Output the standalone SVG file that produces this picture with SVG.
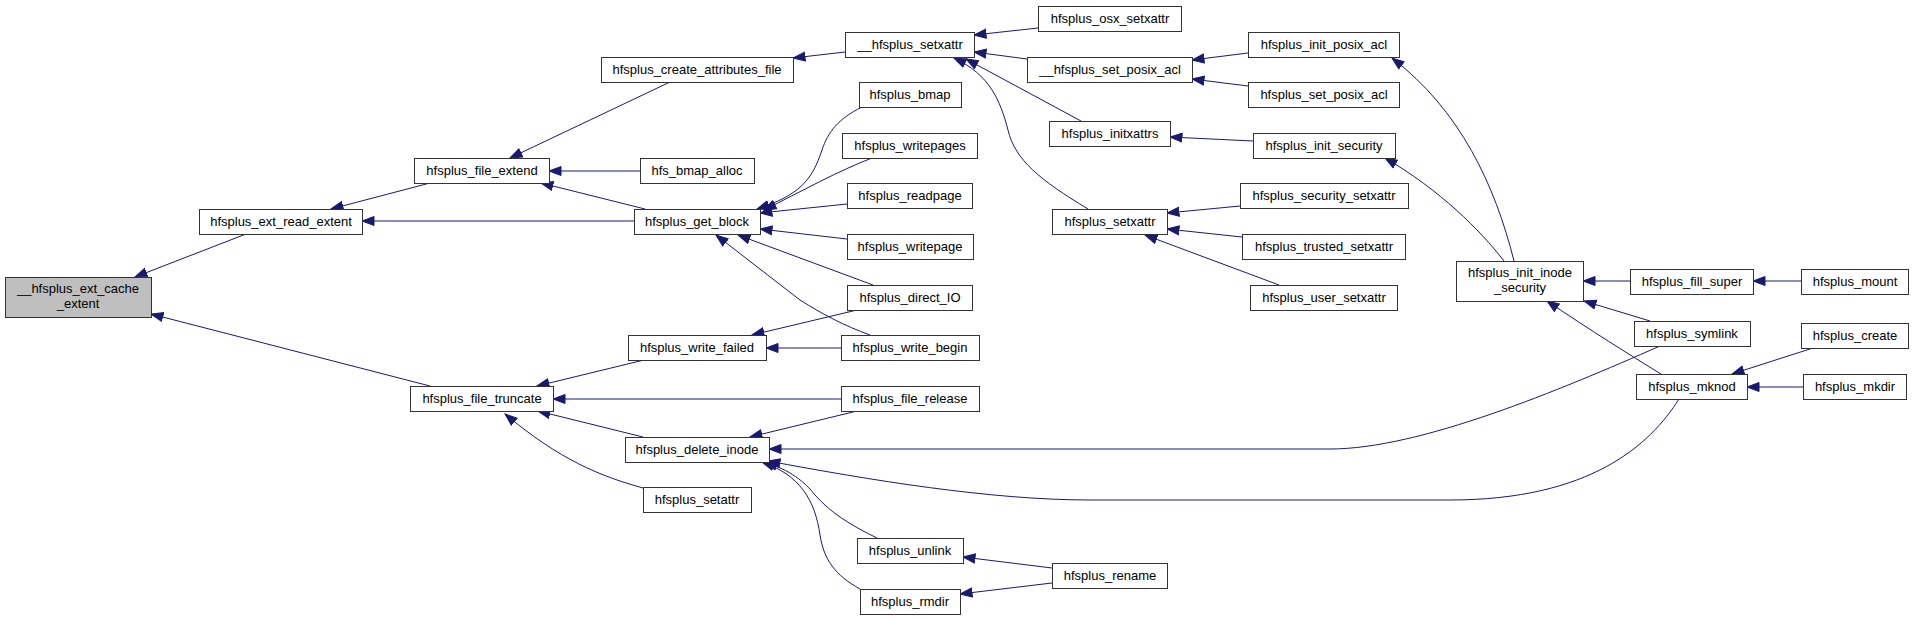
<svg xmlns="http://www.w3.org/2000/svg" width="1913" height="620" viewBox="0 0 1913 620">
<defs>
<style>
.n rect{fill:#ffffff;stroke:#333333;stroke-width:1}
.n.root rect{fill:#bfbfbf}
.n text{font-family:"Liberation Sans",Arial,sans-serif;font-size:13px;text-anchor:middle;fill:#000000}
.e path{fill:none;stroke:#191970;stroke-width:1;marker-end:url(#ah)}
</style>
<marker id="ah" markerUnits="userSpaceOnUse" markerWidth="14" markerHeight="11" viewBox="0 0 14 11" refX="12.5" refY="5.5" orient="auto">
<path d="M0.5,1 L12.5,5.5 L0.5,10 z" fill="#191970" stroke="#191970" stroke-width="1"/>
</marker>
</defs>
<rect x="0" y="0" width="1913" height="620" fill="#ffffff"/>
<g id="connectors" class="e">
<path d="M246,234 L135,277"/>
<path d="M430,386 L151,314"/>
<path d="M430,183 L331,209"/>
<path d="M634,221 L362,221"/>
<path d="M670,82 L510,158"/>
<path d="M640,171 L549,171"/>
<path d="M645,209 L541,183"/>
<path d="M845,52 L793,58"/>
<path d="M862,107 C838,119 828,132 822,150 C812,180 800,195 757,209"/>
<path d="M872,158 C840,170 800,192 764,210"/>
<path d="M847,204 L760,213"/>
<path d="M847,239 L760,229"/>
<path d="M873,285 L738,235"/>
<path d="M870,335 C845,326 822,314 800,300 L716,235"/>
<path d="M857,310 L752,335"/>
<path d="M841,348 L766,348"/>
<path d="M644,360 L537,386"/>
<path d="M841,399 L553,399"/>
<path d="M643,437 L538,411"/>
<path d="M643,488 C600,476 560,460 505,414"/>
<path d="M857,411 L750,437"/>
<path d="M1660,346 C1560,390 1420,449 1330,449 L769,449"/>
<path d="M1679,399 C1650,445 1590,500 1450,500 L1090,500 C990,500 870,480 768,461"/>
<path d="M877,538 C850,525 830,512 815,495 C805,482 790,470 765,462"/>
<path d="M860,589 C835,575 824,560 820,535 C815,500 800,475 762,462"/>
<path d="M1052,568 L963,557"/>
<path d="M1052,583 L960,594"/>
<path d="M1038,28 L974,35"/>
<path d="M1027,59 L974,52"/>
<path d="M1081,121 L966,59"/>
<path d="M1088,209 C1040,180 1015,160 1008,130 C1000,100 990,75 954,58"/>
<path d="M1248,53 L1192,60"/>
<path d="M1248,86 L1192,79"/>
<path d="M1253,141 L1170,137"/>
<path d="M1240,206 L1167,213"/>
<path d="M1242,237 L1167,229"/>
<path d="M1279,285 L1145,235"/>
<path d="M1514,261 C1495,185 1460,110 1392,58"/>
<path d="M1504,261 C1480,230 1440,190 1385,158"/>
<path d="M1630,281 L1583,281"/>
<path d="M1801,281 L1753,281"/>
<path d="M1650,321 L1584,301"/>
<path d="M1661,374 C1630,355 1590,330 1547,301"/>
<path d="M1813,348 L1732,374"/>
<path d="M1803,387 L1747,387"/>
</g>
<g id="n0" class="n root"><rect x="5.5" y="277.5" width="146" height="40"/><text x="78" y="293">__hfsplus_ext_cache</text><text x="78" y="308">_extent</text></g>
<g id="n1" class="n"><rect x="199.5" y="209.5" width="163" height="25"/><text x="281" y="226">hfsplus_ext_read_extent</text></g>
<g id="n2" class="n"><rect x="410.5" y="386.5" width="143" height="25"/><text x="482" y="403">hfsplus_file_truncate</text></g>
<g id="n3" class="n"><rect x="414.5" y="158.5" width="135" height="25"/><text x="482" y="175">hfsplus_file_extend</text></g>
<g id="n4" class="n"><rect x="628.5" y="335.5" width="138" height="25"/><text x="697" y="352">hfsplus_write_failed</text></g>
<g id="n5" class="n"><rect x="625.5" y="437.5" width="144" height="25"/><text x="697" y="454">hfsplus_delete_inode</text></g>
<g id="n6" class="n"><rect x="643.5" y="487.5" width="108" height="25"/><text x="697" y="504">hfsplus_setattr</text></g>
<g id="n7" class="n"><rect x="601.5" y="57.5" width="192" height="25"/><text x="697" y="74">hfsplus_create_attributes_file</text></g>
<g id="n8" class="n"><rect x="640.5" y="158.5" width="114" height="25"/><text x="697" y="175">hfs_bmap_alloc</text></g>
<g id="n9" class="n"><rect x="634.5" y="209.5" width="126" height="25"/><text x="697" y="226">hfsplus_get_block</text></g>
<g id="n10" class="n"><rect x="845.5" y="32.5" width="129" height="25"/><text x="910" y="49">__hfsplus_setxattr</text></g>
<g id="n11" class="n"><rect x="859.5" y="82.5" width="102" height="25"/><text x="910" y="99">hfsplus_bmap</text></g>
<g id="n12" class="n"><rect x="842.5" y="133.5" width="135" height="25"/><text x="910" y="150">hfsplus_writepages</text></g>
<g id="n13" class="n"><rect x="847.5" y="183.5" width="125" height="25"/><text x="910" y="200">hfsplus_readpage</text></g>
<g id="n14" class="n"><rect x="847.5" y="234.5" width="126" height="25"/><text x="910" y="251">hfsplus_writepage</text></g>
<g id="n15" class="n"><rect x="847.5" y="285.5" width="125" height="25"/><text x="910" y="302">hfsplus_direct_IO</text></g>
<g id="n16" class="n"><rect x="841.5" y="335.5" width="138" height="25"/><text x="910" y="352">hfsplus_write_begin</text></g>
<g id="n17" class="n"><rect x="841.5" y="386.5" width="138" height="25"/><text x="910" y="403">hfsplus_file_release</text></g>
<g id="n18" class="n"><rect x="857.5" y="538.5" width="106" height="25"/><text x="910" y="555">hfsplus_unlink</text></g>
<g id="n19" class="n"><rect x="860.5" y="589.5" width="100" height="25"/><text x="910" y="606">hfsplus_rmdir</text></g>
<g id="n20" class="n"><rect x="1052.5" y="563.5" width="115" height="25"/><text x="1110" y="580">hfsplus_rename</text></g>
<g id="n21" class="n"><rect x="1038.5" y="6.5" width="143" height="25"/><text x="1110" y="23">hfsplus_osx_setxattr</text></g>
<g id="n22" class="n"><rect x="1027.5" y="57.5" width="165" height="25"/><text x="1110" y="74">__hfsplus_set_posix_acl</text></g>
<g id="n23" class="n"><rect x="1049.5" y="121.5" width="121" height="25"/><text x="1110" y="138">hfsplus_initxattrs</text></g>
<g id="n24" class="n"><rect x="1052.5" y="209.5" width="115" height="25"/><text x="1110" y="226">hfsplus_setxattr</text></g>
<g id="n25" class="n"><rect x="1248.5" y="32.5" width="151" height="25"/><text x="1324" y="49">hfsplus_init_posix_acl</text></g>
<g id="n26" class="n"><rect x="1248.5" y="82.5" width="151" height="25"/><text x="1324" y="99">hfsplus_set_posix_acl</text></g>
<g id="n27" class="n"><rect x="1253.5" y="133.5" width="142" height="25"/><text x="1324" y="150">hfsplus_init_security</text></g>
<g id="n28" class="n"><rect x="1240.5" y="183.5" width="168" height="25"/><text x="1324" y="200">hfsplus_security_setxattr</text></g>
<g id="n29" class="n"><rect x="1242.5" y="234.5" width="163" height="25"/><text x="1324" y="251">hfsplus_trusted_setxattr</text></g>
<g id="n30" class="n"><rect x="1250.5" y="285.5" width="147" height="25"/><text x="1324" y="302">hfsplus_user_setxattr</text></g>
<g id="n31" class="n"><rect x="1456.5" y="261.5" width="127" height="40"/><text x="1520" y="277">hfsplus_init_inode</text><text x="1520" y="292">_security</text></g>
<g id="n32" class="n"><rect x="1630.5" y="269.5" width="123" height="25"/><text x="1692" y="286">hfsplus_fill_super</text></g>
<g id="n33" class="n"><rect x="1634.5" y="321.5" width="116" height="25"/><text x="1692" y="338">hfsplus_symlink</text></g>
<g id="n34" class="n"><rect x="1636.5" y="374.5" width="111" height="25"/><text x="1692" y="391">hfsplus_mknod</text></g>
<g id="n35" class="n"><rect x="1801.5" y="269.5" width="107" height="25"/><text x="1855" y="286">hfsplus_mount</text></g>
<g id="n36" class="n"><rect x="1801.5" y="323.5" width="107" height="25"/><text x="1855" y="340">hfsplus_create</text></g>
<g id="n37" class="n"><rect x="1803.5" y="374.5" width="103" height="25"/><text x="1855" y="391">hfsplus_mkdir</text></g>
</svg>
